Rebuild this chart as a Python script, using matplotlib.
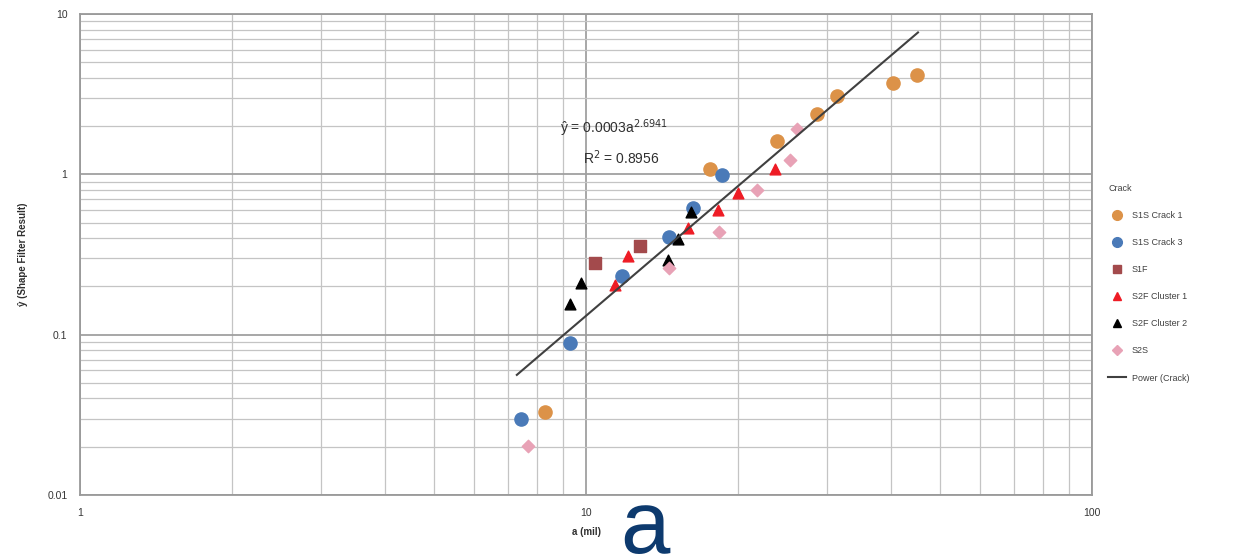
import numpy as np
import matplotlib
matplotlib.use("Agg")
import matplotlib.pyplot as plt
from matplotlib.lines import Line2D
from matplotlib.ticker import LogLocator, FixedLocator, NullFormatter

plt.rcParams['font.family'] = ['Liberation Sans', 'DejaVu Sans']

# data: a (mil) vs y-hat
s1s_crack1_x = [8.3, 17.6, 23.9, 28.6, 31.3, 40.4, 45.1]
s1s_crack1_y = [0.033, 1.08, 1.61, 2.38, 3.08, 3.71, 4.16]

s1s_crack3_x = [7.44, 9.3, 11.8, 14.6, 16.3, 18.6]
s1s_crack3_y = [0.0297, 0.0887, 0.232, 0.406, 0.616, 0.99]

s1f_x = [10.4, 12.8]
s1f_y = [0.28, 0.357]

s2f_cl1_x = [11.4, 12.1, 15.9, 18.2, 20.0, 23.6]
s2f_cl1_y = [0.204, 0.309, 0.462, 0.599, 0.764, 1.08]

s2f_cl2_x = [9.3, 9.78, 14.5, 15.2, 16.1]
s2f_cl2_y = [0.155, 0.21, 0.292, 0.395, 0.582]

s2s_x = [7.68, 14.6, 18.3, 21.8, 25.3, 26.1]
s2s_y = [0.0202, 0.26, 0.436, 0.80, 1.23, 1.92]

# power trendline y = c * a^b
fit_c = 0.000265
fit_b = 2.6941
fit_xmin, fit_xmax = 7.3, 45.3

W, H = 1251, 559
fig = plt.figure(figsize=(W/100, H/100), dpi=100)
ax = fig.add_axes([80/W, 1-495/H, (1092-80)/W, (495-14)/H])
ax.set_xscale('log')
ax.set_yscale('log')
ax.set_xlim(1, 100)
ax.set_ylim(0.01, 10)

ax.xaxis.set_major_locator(FixedLocator([1, 10, 100]))
ax.yaxis.set_major_locator(FixedLocator([0.01, 0.1, 1, 10]))
ax.xaxis.set_minor_locator(LogLocator(base=10, subs=np.arange(2, 10)))
ax.yaxis.set_minor_locator(LogLocator(base=10, subs=np.arange(2, 10)))
ax.xaxis.set_minor_formatter(NullFormatter())
ax.yaxis.set_minor_formatter(NullFormatter())
ax.set_xticklabels(['1', '10', '100'])
ax.set_yticklabels(['0.01', '0.1', '1', '10'])
ax.tick_params(which='both', length=0, labelsize=7.5, colors='#353535', pad=9)

ax.grid(which='major', color='#a0a0a0', lw=1.3)
ax.grid(which='minor', color='#c4c4c4', lw=0.9)
ax.set_axisbelow(True)
for sp in ax.spines.values():
    sp.set_color('#9a9a9a')
    sp.set_linewidth(1.3)

ax.set_xlabel('a (mil)', fontsize=7, fontweight='bold', color='#303030', labelpad=7)
ax.set_ylabel('ŷ (Shape Filter Result)', fontsize=7, fontweight='bold', color='#303030', labelpad=14)

ax.scatter(s1s_crack1_x, s1s_crack1_y, s=90, marker='o', color='#dc9248', zorder=3)
ax.scatter(s1s_crack3_x, s1s_crack3_y, s=90, marker='o', color='#4a7ab8', zorder=3)
ax.scatter(s1f_x, s1f_y, s=75, marker='s', color='#a34a4c', zorder=3)
ax.scatter(s2f_cl1_x, s2f_cl1_y, s=60, marker='^', color='#ee1c25', zorder=3)
ax.scatter(s2f_cl2_x, s2f_cl2_y, s=60, marker='^', color='#000000', zorder=3)
ax.scatter(s2s_x, s2s_y, s=40, marker='D', color='#e8a2b6', zorder=3)

fx = np.logspace(np.log10(fit_xmin), np.log10(fit_xmax), 50)
ax.plot(fx, fit_c * fx ** fit_b, color='#404040', lw=1.5, zorder=4)

fig.text(560/W, 1-128/H, 'ŷ = 0.0003a$^{2.6941}$', fontsize=10, color='#303030',
         va='center', ha='left')
fig.text(583/W, 1-158/H, 'R$^{2}$ = 0.8956', fontsize=10, color='#303030',
         va='center', ha='left')

handles = [
    Line2D([], [], ls='none', marker='o', ms=7, color='#dc9248'),
    Line2D([], [], ls='none', marker='o', ms=7, color='#4a7ab8'),
    Line2D([], [], ls='none', marker='s', ms=6, color='#a34a4c'),
    Line2D([], [], ls='none', marker='^', ms=6, color='#ee1c25'),
    Line2D([], [], ls='none', marker='^', ms=6, color='#000000'),
    Line2D([], [], ls='none', marker='D', ms=5, color='#e8a2b6'),
    Line2D([], [], color='#404040', lw=1.5),
]
labels = ['S1S Crack 1', 'S1S Crack 3', 'S1F', 'S2F Cluster 1', 'S2F Cluster 2', 'S2S', 'Power (Crack)']
leg = fig.legend(handles, labels, title='Crack', loc='upper left',
                 bbox_to_anchor=(1100/W, 1-176/H), frameon=False,
                 fontsize=6.5, title_fontsize=6.5, labelspacing=2.0,
                 handlelength=2.0, handletextpad=0.6)
leg._legend_box.align = 'left'
for t in leg.get_texts():
    t.set_color('#404040')
leg.get_title().set_color('#404040')

fig.text(645/W, 1-553/H, 'a', fontsize=64, color='#0d3a6e', ha='center', va='baseline')

fig.savefig('out.png', dpi=100)
